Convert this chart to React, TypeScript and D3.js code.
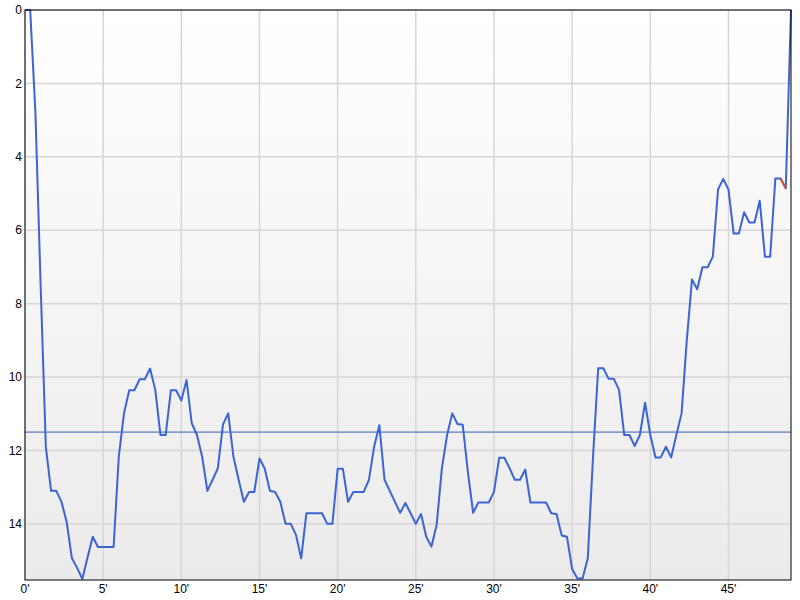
import React from "react";
import * as d3 from "d3";

const positions: number[] = [
  0, 0, 2.8, 7.5, 11.9, 13.1, 13.1, 13.4, 13.95, 14.94,
  15.2, 15.5, 14.92, 14.35, 14.63, 14.63, 14.63, 14.63, 12.17, 10.99,
  10.36, 10.36, 10.06, 10.06, 9.77, 10.35, 11.58, 11.58, 10.36, 10.36,
  10.64, 10.08, 11.26, 11.58, 12.17, 13.1, 12.8, 12.49, 11.29, 10.99,
  12.17, 12.8, 13.4, 13.13, 13.13, 12.22, 12.49, 13.1, 13.13, 13.4,
  14.0, 14.0, 14.3, 14.94, 13.71, 13.71, 13.71, 13.71, 14.0, 14.0,
  12.5, 12.5, 13.4, 13.13, 13.13, 13.13, 12.8, 11.9, 11.31, 12.8,
  13.1, 13.4, 13.7, 13.43, 13.71, 14.0, 13.73, 14.35, 14.62, 14.03,
  12.49, 11.58, 10.99, 11.28, 11.3, 12.6, 13.7, 13.42, 13.42, 13.42,
  13.13, 12.2, 12.2, 12.49, 12.8, 12.8, 12.52, 13.42, 13.42, 13.42,
  13.42, 13.71, 13.73, 14.32, 14.35, 15.23, 15.49, 15.49, 14.94, 12.2,
  9.76, 9.76, 10.05, 10.05, 10.35, 11.58, 11.58, 11.88, 11.58, 10.7,
  11.58, 12.19, 12.19, 11.9, 12.19, 11.58, 10.99, 9.0, 7.34, 7.61,
  7.01, 7.01, 6.72, 4.89, 4.6, 4.89, 6.09, 6.09, 5.51, 5.79,
  5.79, 5.2, 6.72, 6.72, 4.59, 4.59, 4.86, 0,
];
const minutes: number[] = positions.map((_, i) => i / 3);
const highlightSegments: number[] = [145];
const referenceLevel = 11.5;
const xTicks: number[] = [0, 5, 10, 15, 20, 25, 30, 35, 40, 45];
const yTicks: number[] = [0, 2, 4, 6, 8, 10, 12, 14];

export default function App() {
  const left = 25, right = 791, top = 10, bottom = 580;
  const x = d3.scaleLinear().domain([0, 49]).range([left, right]);
  const y = d3.scaleLinear().domain([0, 15.53]).range([top, bottom]);
  const pts: [number, number][] = positions.map((v, i) => [minutes[i], v]);
  const line = d3.line<[number, number]>().x(d => x(d[0])).y(d => y(d[1]));
  const font = "'Liberation Sans', Arial, sans-serif";
  return (
    <svg width={800} height={600} style={{ position: "absolute", left: 0, top: 0, background: "#fff" }}>
      <defs>
        <linearGradient id="bg" x1="0" y1="0" x2="0" y2="1">
          <stop offset="0" stopColor="#ffffff" />
          <stop offset="1" stopColor="#ebebeb" />
        </linearGradient>
        <clipPath id="clip">
          <rect x={left} y={top - 2} width={right - left + 2} height={bottom - top + 4} />
        </clipPath>
      </defs>
      <rect x={left} y={top} width={right - left} height={bottom - top} fill="url(#bg)" />
      {yTicks.map(t => (
        <line key={"gy" + t} x1={left} x2={right} y1={y(t)} y2={y(t)} stroke="#d6d6d6" strokeWidth={1.5} />
      ))}
      {xTicks.map(t => (
        <line key={"gx" + t} x1={x(t)} x2={x(t)} y1={top} y2={bottom} stroke="#d6d6d6" strokeWidth={1.5} />
      ))}
      <line x1={left} x2={right} y1={y(referenceLevel)} y2={y(referenceLevel)} stroke="#3a5fb5" strokeWidth={1} />
      <g clipPath="url(#clip)">
        <path d={line(pts) || ""} fill="none" stroke="#3b64d5" strokeWidth={2} strokeLinejoin="round" />
        {highlightSegments.map(i => (
          <path key={"h" + i} d={line([pts[i], pts[i + 1]]) || ""} fill="none" stroke="#e0531e" strokeWidth={2} />
        ))}
      </g>
      <rect x={left} y={top} width={right - left} height={bottom - top} fill="none" stroke="#000" strokeWidth={1} />
      {yTicks.map(t => (
        <text key={"ty" + t} x={left - 3} y={y(t)} dy="0.35em" textAnchor="end" fontFamily={font} fontSize={12} fill="#000">
          {t}
        </text>
      ))}
      {xTicks.map(t => (
        <text key={"tx" + t} x={x(t)} y={593} textAnchor="middle" fontFamily={font} fontSize={12} fill="#000">
          {t + "'"}
        </text>
      ))}
    </svg>
  );
}
